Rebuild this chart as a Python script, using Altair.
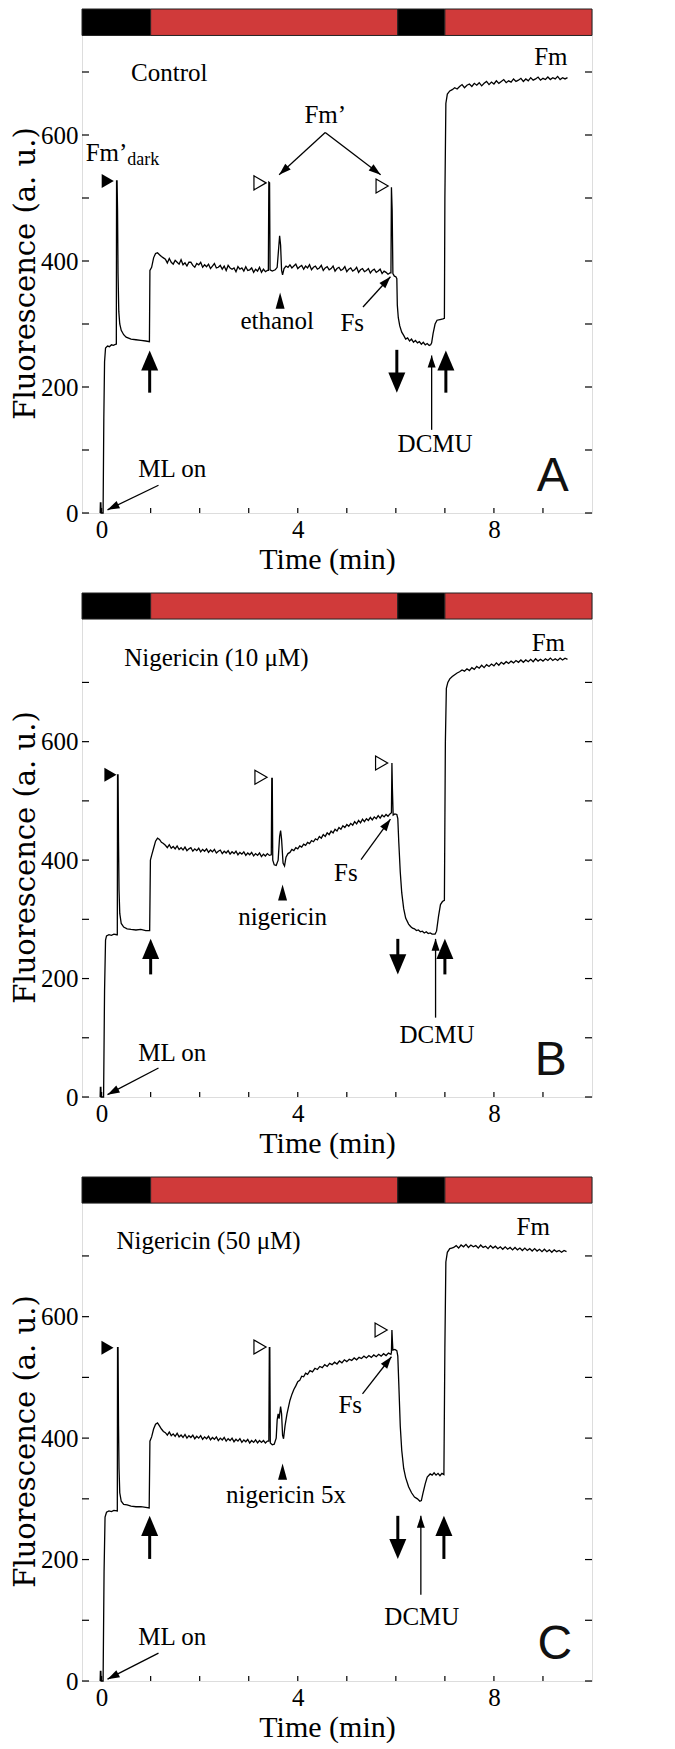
import math
import altair as alt
import pandas as pd

W, H = 510, 504
X_DOMAIN = [-0.4, 10.0]
SERIF = "Liberation Serif"
WIDE_SERIF = "DejaVu Serif"
SANS = "Liberation Sans"
RED = "#d03a3a"

# light regime bar (dark / actinic light)
light_start = [-0.4, 1.0, 6.04, 7.0]
light_end = [1.0, 6.04, 7.0, 10.0]
light_color = ["black", RED, "black", RED]

y_tick_values = [0, 100, 200, 300, 400, 500, 600, 700]
y_label_values = [0, 200, 400, 600]
x_tick_values = [0, 1, 2, 3, 4, 5, 6, 7, 8, 9]
x_label_values = [0, 4, 8]

# ---------------- Panel A (Control) ----------------
trace_A = [(-0.03, 0), (-0.025, 16), (-0.015, 16), (-0.01, 0), (0.03, 0), (0.045, 150), (0.06, 240), (0.08, 262),
           (0.12, 265), (0.16, 264), (0.2, 267), (0.24, 266), (0.29, 268), (0.30, 268), (0.305, 527), (0.315, 527),
           (0.325, 480), (0.335, 380), (0.35, 320), (0.37, 300), (0.40, 290), (0.45, 283), (0.5, 279), (0.6, 276),
           (0.7, 275), (0.8, 274), (0.9, 273), (0.975, 272),
           (0.985, 385), (1.02, 390), (1.06, 405), (1.1, 412), (1.14, 413), (1.18, 410), (1.22, 407), (1.26, 405),
           (1.30, 403), (1.34, 397), (1.38, 404), (1.42, 398), (1.46, 395), (1.50, 401), (1.54, 398), (1.58, 395),
           (1.62, 402), (1.66, 394), (1.70, 397), (1.74, 392), (1.78, 398), (1.82, 398), (1.86, 393), (1.90, 390),
           (1.94, 396), (1.98, 394), (2.02, 398), (2.06, 390), (2.10, 394), (2.14, 391), (2.18, 395), (2.22, 388),
           (2.26, 392), (2.30, 396), (2.34, 389), (2.38, 390), (2.42, 393), (2.46, 387), (2.50, 392), (2.54, 385),
           (2.58, 393), (2.62, 389), (2.66, 387), (2.70, 389), (2.74, 383), (2.78, 391), (2.82, 387), (2.86, 389),
           (2.90, 384), (2.94, 391), (2.98, 385), (3.02, 386), (3.06, 389), (3.10, 382), (3.14, 387), (3.18, 384),
           (3.22, 390), (3.26, 382), (3.30, 387), (3.34, 383), (3.38, 385),
           (3.40, 385), (3.41, 525), (3.425, 524), (3.435, 386), (3.48, 384), (3.54, 386), (3.58, 390), (3.61, 420),
           (3.63, 440), (3.65, 425), (3.67, 385), (3.69, 378), (3.72, 388), (3.76, 392),
           (3.80, 390), (3.84, 394), (3.88, 389), (3.92, 392), (3.96, 395), (4.00, 388), (4.04, 391), (4.08, 393),
           (4.12, 387), (4.16, 392), (4.20, 389), (4.24, 394), (4.28, 386), (4.32, 390), (4.36, 392), (4.40, 387),
           (4.44, 389), (4.48, 393), (4.52, 385), (4.56, 389), (4.60, 391), (4.64, 386), (4.68, 388), (4.72, 392),
           (4.76, 384), (4.80, 388), (4.84, 390), (4.88, 385), (4.92, 387), (4.96, 391), (5.00, 383), (5.04, 387),
           (5.08, 389), (5.12, 384), (5.16, 386), (5.20, 390), (5.24, 382), (5.28, 386), (5.32, 388), (5.36, 383),
           (5.40, 385), (5.44, 388), (5.48, 381), (5.52, 385), (5.56, 387), (5.60, 382), (5.64, 384), (5.68, 387),
           (5.72, 380), (5.76, 384), (5.80, 382), (5.84, 379), (5.88, 381),
           (5.9, 381), (5.91, 517), (5.925, 480), (5.94, 380), (5.97, 376), (6.0, 375), (6.02, 372), (6.03, 330),
           (6.05, 310), (6.08, 297), (6.12, 287), (6.16, 282), (6.2, 276), (6.24, 278), (6.28, 273), (6.32, 276),
           (6.36, 271), (6.4, 274), (6.44, 270), (6.48, 272), (6.52, 268), (6.56, 271), (6.6, 267), (6.64, 269),
           (6.68, 266), (6.71, 267), (6.73, 270), (6.76, 285), (6.8, 300), (6.84, 306), (6.9, 307),
           (6.96, 308), (6.99, 309),
           (7.0, 500), (7.02, 650), (7.05, 665), (7.1, 670), (7.15, 672), (7.2, 675), (7.25, 673),
           (7.30, 677), (7.35, 680), (7.40, 675), (7.45, 679), (7.50, 681), (7.55, 677), (7.60, 682), (7.65, 679),
           (7.70, 683), (7.75, 678), (7.80, 682), (7.85, 685), (7.90, 680), (7.95, 684), (8.00, 681), (8.05, 686),
           (8.10, 682), (8.15, 685), (8.20, 688), (8.25, 683), (8.30, 686), (8.35, 684), (8.40, 689), (8.45, 685),
           (8.50, 687), (8.55, 690), (8.60, 685), (8.65, 689), (8.70, 686), (8.75, 691), (8.80, 687), (8.85, 689),
           (8.90, 692), (8.95, 687), (9.00, 690), (9.05, 688), (9.10, 692), (9.15, 688), (9.20, 691), (9.25, 689),
           (9.30, 693), (9.35, 688), (9.40, 691), (9.45, 689), (9.50, 691)]
top_A, bar_bottom_A = 800, 758
texts_A = [("Control", 1.38, 699, 25), ("Fm", 9.16, 724, 25), ("Fm’", 4.56, 631, 25), ("Fm’", 0.1, 571, 25),
           ("dark", 0.85, 560, 18), ("ethanol", 3.58, 305, 25), ("Fs", 5.11, 302, 25), ("DCMU", 6.8, 109, 25),
           ("ML on", 1.44, 70, 25)]
letter_A = [("A", 9.2, 57)]
fill_tri_A = [(0.125, 527)]
open_tri_A = [(3.23, 524), (5.72, 519)]
wedge_A = [(3.64, 350)]
thick_A = [(0.98, 191, 258), (6.02, 259, 191), (7.02, 191, 258)]
thin_A = [(4.56, 604, 3.62, 537), (4.56, 604, 5.69, 537), (5.33, 327, 5.89, 375), (6.73, 132, 6.73, 250),
          (1.16, 44, 0.12, 5)]

# ---------------- Panel B (Nigericin 10 uM) ----------------
trace_B = [(-0.03, 0), (-0.025, 16), (-0.015, 16), (-0.01, 0), (0.04, 0), (0.06, 180), (0.08, 265), (0.1, 272),
           (0.15, 274), (0.2, 273), (0.25, 275), (0.31, 274), (0.32, 274), (0.325, 544), (0.335, 544), (0.345, 430),
           (0.355, 350), (0.37, 310), (0.4, 293), (0.45, 287), (0.52, 284), (0.6, 283), (0.7, 282), (0.8, 283),
           (0.9, 281), (0.98, 281),
           (0.995, 400), (1.02, 408), (1.06, 420), (1.1, 432), (1.14, 437), (1.18, 435), (1.22, 430), (1.26, 428),
           (1.30, 425), (1.34, 421), (1.38, 426), (1.42, 420), (1.46, 423), (1.50, 419), (1.54, 424), (1.58, 418),
           (1.62, 421), (1.66, 417), (1.70, 422), (1.74, 416), (1.78, 419), (1.82, 421), (1.86, 415), (1.90, 419),
           (1.94, 416), (1.98, 420), (2.02, 414), (2.06, 418), (2.10, 415), (2.14, 419), (2.18, 413), (2.22, 417),
           (2.26, 414), (2.30, 418), (2.34, 412), (2.38, 415), (2.42, 417), (2.46, 411), (2.50, 415), (2.54, 412),
           (2.58, 416), (2.62, 410), (2.66, 414), (2.70, 411), (2.74, 415), (2.78, 409), (2.82, 413), (2.86, 410),
           (2.90, 414), (2.94, 408), (2.98, 412), (3.02, 409), (3.06, 413), (3.10, 407), (3.14, 411), (3.18, 408),
           (3.22, 412), (3.26, 406), (3.30, 410), (3.34, 407), (3.38, 411), (3.42, 408),
           (3.46, 409), (3.47, 538), (3.48, 538), (3.49, 400), (3.52, 392), (3.56, 391), (3.6, 400), (3.63, 440),
           (3.65, 450), (3.67, 435), (3.7, 395), (3.73, 390),
           (3.76, 405), (3.80, 411), (3.84, 413), (3.88, 418), (3.92, 416), (3.96, 421), (4.00, 419), (4.04, 424),
           (4.08, 422), (4.12, 427), (4.16, 425), (4.20, 430), (4.24, 428), (4.28, 433), (4.32, 431), (4.36, 436),
           (4.40, 434), (4.44, 440), (4.48, 437), (4.52, 443), (4.56, 440), (4.60, 446), (4.64, 443), (4.68, 449),
           (4.72, 446), (4.76, 452), (4.80, 449), (4.84, 455), (4.88, 452), (4.92, 458), (4.96, 455), (5.00, 460),
           (5.04, 457), (5.08, 462), (5.12, 459), (5.16, 465), (5.20, 461), (5.24, 467), (5.28, 463), (5.32, 469),
           (5.36, 465), (5.40, 470), (5.44, 467), (5.48, 472), (5.52, 468), (5.56, 473), (5.60, 470), (5.64, 475),
           (5.68, 471), (5.72, 476), (5.76, 473), (5.80, 477), (5.84, 474), (5.88, 478),
           (5.91, 480), (5.92, 564), (5.93, 520), (5.945, 476), (5.98, 478), (6.02, 477), (6.04, 470), (6.06, 430),
           (6.09, 380), (6.12, 345), (6.16, 318), (6.2, 302), (6.26, 292), (6.3, 288), (6.34, 285), (6.38, 284),
           (6.42, 281), (6.46, 282), (6.5, 279), (6.54, 280), (6.58, 277), (6.62, 279), (6.66, 276), (6.7, 277),
           (6.74, 275), (6.8, 275), (6.83, 280), (6.87, 305), (6.91, 325), (6.95, 330), (6.99, 332),
           (7.01, 600), (7.03, 690), (7.06, 700), (7.1, 706), (7.15, 710), (7.2, 713), (7.25, 716),
           (7.30, 718), (7.35, 721), (7.40, 719), (7.45, 723), (7.50, 720), (7.55, 725), (7.60, 722), (7.65, 727),
           (7.70, 724), (7.75, 729), (7.80, 725), (7.85, 730), (7.90, 727), (7.95, 731), (8.00, 728), (8.05, 733),
           (8.10, 729), (8.15, 734), (8.20, 731), (8.25, 735), (8.30, 732), (8.35, 736), (8.40, 733), (8.45, 737),
           (8.50, 734), (8.55, 738), (8.60, 734), (8.65, 738), (8.70, 735), (8.75, 739), (8.80, 735), (8.85, 740),
           (8.90, 736), (8.95, 739), (9.00, 736), (9.05, 740), (9.10, 737), (9.15, 741), (9.20, 737), (9.25, 740),
           (9.30, 737), (9.35, 741), (9.40, 738), (9.45, 741), (9.50, 739)]
top_B, bar_bottom_B = 851, 807
texts_B = [("Nigericin (10 μM)", 2.34, 742, 25), ("Fm", 9.11, 767, 25), ("nigericin", 3.69, 304, 25),
           ("Fs", 4.98, 379, 25), ("DCMU", 6.84, 105, 25), ("ML on", 1.44, 74, 25)]
letter_B = [("B", 9.16, 61)]
fill_tri_B = [(0.18, 544)]
open_tri_B = [(3.25, 540), (5.71, 564)]
wedge_B = [(3.69, 359)]
thick_B = [(1.0, 207, 267), (6.04, 267, 207), (7.0, 207, 267)]
thin_B = [(5.29, 401, 5.89, 469), (6.81, 134, 6.81, 267), (1.16, 49, 0.12, 4)]

# ---------------- Panel C (Nigericin 50 uM) ----------------
trace_C = [(-0.03, 0), (-0.025, 16), (-0.015, 16), (-0.01, 0), (0.03, 0), (0.05, 180), (0.07, 270), (0.1, 278),
           (0.15, 280), (0.2, 279), (0.25, 281), (0.32, 280), (0.325, 549), (0.335, 549), (0.345, 420),
           (0.355, 350), (0.37, 310), (0.4, 296), (0.45, 291), (0.52, 290), (0.6, 288), (0.7, 287), (0.8, 287),
           (0.9, 286), (0.97, 285),
           (0.985, 395), (1.02, 402), (1.06, 415), (1.1, 423), (1.14, 425), (1.18, 420), (1.22, 415), (1.26, 411),
           (1.30, 409), (1.34, 405), (1.38, 410), (1.42, 404), (1.46, 407), (1.50, 403), (1.54, 408), (1.58, 402),
           (1.62, 405), (1.66, 401), (1.70, 406), (1.74, 400), (1.78, 404), (1.82, 401), (1.86, 405), (1.90, 399),
           (1.94, 403), (1.98, 400), (2.02, 404), (2.06, 398), (2.10, 402), (2.14, 399), (2.18, 403), (2.22, 397),
           (2.26, 401), (2.30, 398), (2.34, 402), (2.38, 396), (2.42, 400), (2.46, 397), (2.50, 401), (2.54, 395),
           (2.58, 399), (2.62, 396), (2.66, 400), (2.70, 394), (2.74, 398), (2.78, 395), (2.82, 399), (2.86, 393),
           (2.90, 397), (2.94, 394), (2.98, 398), (3.02, 392), (3.06, 396), (3.10, 393), (3.14, 397), (3.18, 392),
           (3.22, 396), (3.26, 393), (3.30, 396), (3.34, 392), (3.38, 395),
           (3.41, 395), (3.42, 549), (3.43, 549), (3.44, 392), (3.48, 389), (3.52, 390), (3.56, 400), (3.58, 430),
           (3.60, 440), (3.62, 432), (3.65, 452), (3.67, 440), (3.69, 405), (3.71, 399), (3.74, 420), (3.78, 440),
           (3.84, 462), (3.88, 472), (3.92, 480), (3.96, 486), (4.00, 493), (4.04, 495), (4.08, 502), (4.12, 501),
           (4.16, 507), (4.20, 505), (4.25, 511), (4.30, 509), (4.35, 515), (4.40, 513), (4.45, 518), (4.50, 516),
           (4.55, 521), (4.60, 518), (4.65, 523), (4.70, 521), (4.75, 525), (4.80, 522), (4.85, 527), (4.90, 524),
           (4.95, 529), (5.00, 526), (5.05, 530), (5.10, 528), (5.15, 532), (5.20, 529), (5.25, 533), (5.30, 531),
           (5.35, 535), (5.40, 532), (5.45, 536), (5.50, 533), (5.55, 537), (5.60, 534), (5.65, 538), (5.70, 535),
           (5.75, 539), (5.80, 536), (5.85, 540), (5.90, 538),
           (5.91, 541), (5.92, 578), (5.93, 560), (5.94, 545), (5.98, 546), (6.02, 544), (6.04, 535), (6.06, 490),
           (6.09, 420), (6.12, 380), (6.16, 350), (6.2, 335), (6.26, 320), (6.32, 310), (6.38, 303), (6.44, 300),
           (6.49, 296), (6.52, 297), (6.55, 308), (6.6, 325), (6.64, 336), (6.7, 341), (6.74, 339), (6.78, 343),
           (6.82, 339), (6.86, 342), (6.9, 338), (6.94, 342), (6.98, 340),
           (7.0, 550), (7.02, 690), (7.05, 706), (7.1, 712), (7.14, 713),
           (7.18, 714), (7.23, 717), (7.28, 713), (7.33, 718), (7.38, 715), (7.43, 719), (7.48, 714), (7.53, 718),
           (7.58, 715), (7.63, 717), (7.68, 713), (7.73, 718), (7.78, 714), (7.83, 716), (7.88, 712), (7.93, 717),
           (7.98, 713), (8.03, 716), (8.08, 712), (8.13, 715), (8.18, 711), (8.23, 715), (8.28, 711), (8.33, 714),
           (8.38, 710), (8.43, 714), (8.48, 710), (8.53, 713), (8.58, 709), (8.63, 713), (8.68, 709), (8.73, 712),
           (8.78, 708), (8.83, 712), (8.88, 708), (8.93, 711), (8.98, 707), (9.03, 711), (9.08, 707), (9.13, 710),
           (9.18, 706), (9.23, 710), (9.28, 707), (9.33, 709), (9.38, 706), (9.43, 709), (9.48, 707)]
top_C, bar_bottom_C = 830, 787
texts_C = [("Nigericin (50 μM)", 2.18, 725, 25), ("Fm", 8.8, 748, 25), ("nigericin 5x", 3.76, 307, 25),
           ("Fs", 5.07, 455, 25), ("DCMU", 6.53, 106, 25), ("ML on", 1.44, 72, 25)]
letter_C = [("C", 9.24, 59)]
fill_tri_C = [(0.12, 549)]
open_tri_C = [(3.23, 550), (5.70, 578)]
wedge_C = [(3.69, 358)]
thick_C = [(0.98, 201, 272), (6.04, 272, 201), (6.98, 201, 272)]
thin_C = [(5.32, 473, 5.91, 534), (6.51, 142, 6.51, 272), (1.16, 46, 0.12, 3)]

# arrowhead shapes (tip at the origin, pointing up)
THICK_HEAD = "M0,0L0.5,1.18L-0.5,1.18Z"
THICK_S = 17.0
THIN_HEAD = "M0,0L0.5,1.5L-0.5,1.5Z"
THIN_S = 8.0
WEDGE = "M0,0L0.5,1.8L-0.5,1.8Z"
WEDGE_S = 9.0

X_AXIS = alt.Axis(values=x_label_values, ticks=False, domain=False, grid=False,
                  labelFont=SERIF, labelFontSize=25, labelColor="black", labelPadding=4,
                  title="Time (min)", titleFont=SERIF, titleFontSize=30, titleFontWeight="normal",
                  titleColor="black", titlePadding=2, titleX=W / 2 - 10)
Y_AXIS = alt.Axis(values=y_label_values, ticks=False, domain=False, grid=False,
                  labelFont=SERIF, labelFontSize=25, labelColor="black", labelPadding=4,
                  title="Fluorescence (a. u.)", titleFont=WIDE_SERIF, titleFontSize=29,
                  titleFontWeight="normal", titleColor="black", titlePadding=0, titleY=H / 2 + 12)


def make_panel(trace, top, bar_bottom, texts, letter, fill_tri, open_tri, wedge, thick, thin):
    kx = W / (X_DOMAIN[1] - X_DOMAIN[0])
    ky = H / top
    xs = alt.Scale(domain=X_DOMAIN, nice=False, zero=False)
    ys = alt.Scale(domain=[0, top], nice=False, zero=False)

    def X(f):
        return alt.X(f, type="quantitative", scale=xs, axis=X_AXIS)

    def Y(f):
        return alt.Y(f, type="quantitative", scale=ys, axis=Y_AXIS)

    bar_df = pd.DataFrame({"t0": light_start, "t1": light_end, "c": light_color,
                           "y0": [bar_bottom] * len(light_start), "y1": [top] * len(light_start)})
    bars = alt.Chart(bar_df).mark_rect(stroke="#222222", strokeWidth=1).encode(
        x=X("t0"), x2="t1", y=Y("y0"), y2="y1", color=alt.Color("c:N", scale=None))

    ytk = pd.DataFrame({"v": y_tick_values})
    left_ticks = alt.Chart(ytk).mark_rule(color="black", strokeWidth=1.2).encode(
        y=Y("v"), x=alt.value(0), x2=alt.value(7))
    right_ticks = alt.Chart(ytk).mark_rule(color="black", strokeWidth=1.2).encode(
        y=Y("v"), x=alt.value(W), x2=alt.value(W - 7))
    xtk = pd.DataFrame({"t": x_tick_values})
    bottom_ticks = alt.Chart(xtk).mark_rule(color="black", strokeWidth=1.2).encode(
        x=X("t"), y=alt.value(H), y2=alt.value(H - 5))

    tr = pd.DataFrame({"t": [p[0] for p in trace], "f": [p[1] for p in trace]})
    line = alt.Chart(tr).mark_line(color="black", strokeWidth=1.3).encode(
        x=X("t"), y=Y("f"), order="t:Q")

    txt = pd.DataFrame({"s": [a[0] for a in texts], "t": [a[1] for a in texts],
                        "v": [a[2] for a in texts], "fs": [a[3] for a in texts]})
    labels = alt.Chart(txt).mark_text(font=SERIF, align="center", baseline="middle", color="black").encode(
        x=X("t"), y=Y("v"), text="s:N", size=alt.Size("fs:Q", scale=None))
    let = pd.DataFrame({"s": [a[0] for a in letter], "t": [a[1] for a in letter], "v": [a[2] for a in letter]})
    letter_layer = alt.Chart(let).mark_text(font=SANS, fontSize=48, align="center", baseline="middle",
                                            color="#111111").encode(x=X("t"), y=Y("v"), text="s:N")

    ft = pd.DataFrame({"t": [p[0] for p in fill_tri], "v": [p[1] for p in fill_tri]})
    fill_layer = alt.Chart(ft).mark_point(shape="triangle-right", filled=True, color="black", size=196,
                                          opacity=1).encode(x=X("t"), y=Y("v"))
    ot = pd.DataFrame({"t": [p[0] for p in open_tri], "v": [p[1] for p in open_tri]})
    open_layer = alt.Chart(ot).mark_point(shape="triangle-right", filled=True, fill="white", stroke="black",
                                          strokeWidth=1.2, size=196, opacity=1).encode(x=X("t"), y=Y("v"))
    wd = pd.DataFrame({"t": [p[0] for p in wedge], "v": [p[1] for p in wedge]})
    wedge_layer = alt.Chart(wd).mark_point(shape=WEDGE, filled=True, color="black", size=4 * WEDGE_S ** 2,
                                           opacity=1).encode(x=X("t"), y=Y("v"))

    # thick vertical arrows
    head_len_units = 0.7 * THICK_S * 1.18 / ky
    th = pd.DataFrame({
        "t": [a[0] for a in thick],
        "tail": [a[1] for a in thick],
        "tip": [a[2] for a in thick],
        "shaft_end": [a[2] - math.copysign(head_len_units, a[2] - a[1]) for a in thick],
        "ang": [0 if a[2] > a[1] else 180 for a in thick],
    })
    thick_shaft = alt.Chart(th).mark_rule(color="black", strokeWidth=3).encode(
        x=X("t"), y=Y("tail"), y2="shaft_end")
    thick_head = alt.Chart(th).mark_point(shape=THICK_HEAD, filled=True, color="black", size=4 * THICK_S ** 2,
                                          opacity=1).encode(
        x=X("t"), y=Y("tip"), angle=alt.Angle("ang:Q", scale=None))

    # thin arrows
    tn = pd.DataFrame({
        "x1": [a[0] for a in thin], "y1": [a[1] for a in thin],
        "x2": [a[2] for a in thin], "y2": [a[3] for a in thin],
        "ang": [math.degrees(math.atan2((a[2] - a[0]) * kx, (a[3] - a[1]) * ky)) % 360 for a in thin],
    })
    thin_shaft = alt.Chart(tn).mark_rule(color="black", strokeWidth=1.3).encode(
        x=X("x1"), y=Y("y1"), x2="x2", y2="y2")
    thin_head = alt.Chart(tn).mark_point(shape=THIN_HEAD, filled=True, color="black", size=4 * THIN_S ** 2,
                                         opacity=1).encode(
        x=X("x2"), y=Y("y2"), angle=alt.Angle("ang:Q", scale=None))

    return alt.layer(bars, line, left_ticks, right_ticks, bottom_ticks, labels, letter_layer,
                     fill_layer, open_layer, wedge_layer, thick_shaft, thick_head, thin_shaft,
                     thin_head).properties(width=W, height=H)


pA = make_panel(trace_A, top_A, bar_bottom_A, texts_A, letter_A, fill_tri_A, open_tri_A, wedge_A, thick_A, thin_A)
pB = make_panel(trace_B, top_B, bar_bottom_B, texts_B, letter_B, fill_tri_B, open_tri_B, wedge_B, thick_B, thin_B)
pC = make_panel(trace_C, top_C, bar_bottom_C, texts_C, letter_C, fill_tri_C, open_tri_C, wedge_C, thick_C, thin_C)

chart = alt.vconcat(pA, pB, pC, spacing=17).properties(
    padding={"left": 3, "top": 0, "right": 5, "bottom": 0}
).configure_view(stroke="black", strokeWidth=1.5).configure(background="white")

chart.save("out.html", embed_options={"renderer": "svg", "actions": False})
